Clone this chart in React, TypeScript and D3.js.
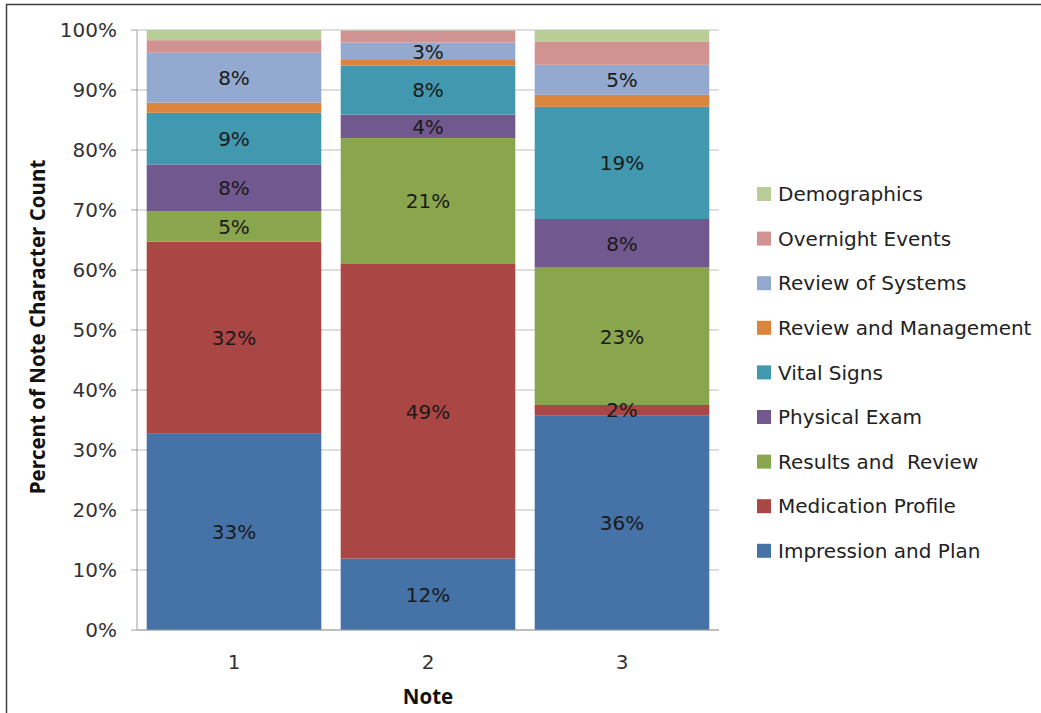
import React from "react";
import * as d3 from "d3";

const notes = ["1", "2", "3"];
const seriesNames = [
  "Impression and Plan",
  "Medication Profile",
  "Results and  Review",
  "Physical Exam",
  "Vital Signs",
  "Review and Management",
  "Review of Systems",
  "Overnight Events",
  "Demographics",
];
const seriesColors = ["#4572A7", "#AA4643", "#89A54E", "#71588F", "#4198AF", "#DB843D", "#93A9CF", "#D19392", "#B9CD96"];
const impressionAndPlan = [32.8, 11.9, 35.8];
const medicationProfile = [31.9, 49.1, 1.7];
const resultsAndReview = [5.1, 21.0, 22.9];
const physicalExam = [7.8, 3.9, 8.1];
const vitalSigns = [8.6, 8.2, 18.7];
const reviewAndManagement = [1.7, 0.9, 2.0];
const reviewOfSystems = [8.3, 2.9, 5.0];
const overnightEvents = [2.1, 2.0, 3.9];
const demographics = [1.7, 0.1, 1.9];
const labeledSeries = [true, true, true, true, true, false, true, false, false];
const yTicks = [0, 10, 20, 30, 40, 50, 60, 70, 80, 90, 100];

const seriesValues = [
  impressionAndPlan,
  medicationProfile,
  resultsAndReview,
  physicalExam,
  vitalSigns,
  reviewAndManagement,
  reviewOfSystems,
  overnightEvents,
  demographics,
];

const FONT = "'Open Sans', 'Noto Sans', sans-serif";
const WIDE = "'DejaVu Sans', sans-serif";

export default function App() {
  const W = 1041;
  const H = 713;
  const left = 137;
  const right = 719;
  const top = 30;
  const bottom = 630;

  const x = d3.scaleBand<string>().domain(notes).range([left, right]).paddingInner(0.1).paddingOuter(0.05);
  const y = d3.scaleLinear().domain([0, 100]).range([bottom, top]);

  const rows = notes.map((n, i) => {
    const r: any = { note: n };
    seriesNames.forEach((s, j) => (r[s] = seriesValues[j][i]));
    return r;
  });
  const stack = d3.stack<any>().keys(seriesNames)(rows);

  const legendY0 = 194;
  const legendStep = 44.6;
  const fs = 20;

  return (
    <svg width={W} height={H} style={{ display: "block", position: "absolute", left: 0, top: 0 }} fontFamily={WIDE}>
      <rect x={0} y={0} width={W} height={H} fill="#fff" />
      <rect x={6.5} y={4.5} width={W + 10} height={H + 10} fill="none" stroke="#404040" strokeWidth={1.5} />
      {yTicks.map((t) => (
        <line key={"g" + t} x1={left} x2={right} y1={y(t)} y2={y(t)} stroke="#BEBEBE" strokeWidth={1} />
      ))}
      {yTicks.map((t) => (
        <line key={"tk" + t} x1={left - 6} x2={left} y1={y(t)} y2={y(t)} stroke="#A0A0A0" strokeWidth={1} />
      ))}
      {stack.map((layer, j) =>
        layer.map((d, i) => (
          <rect
            key={j + "-" + i}
            x={x(notes[i])}
            width={x.bandwidth()}
            y={y(d[1])}
            height={Math.max(0, y(d[0]) - y(d[1]))}
            fill={seriesColors[j]}
          />
        ))
      )}
      <line x1={left} x2={left} y1={top} y2={bottom} stroke="#A0A0A0" strokeWidth={1} />
      <line x1={left} x2={right} y1={bottom} y2={bottom} stroke="#A0A0A0" strokeWidth={1} />
      {stack.map((layer, j) =>
        labeledSeries[j]
          ? layer.map((d, i) => (
              <text
                key={"l" + j + "-" + i}
                x={(x(notes[i]) as number) + x.bandwidth() / 2}
                y={(y(d[0]) + y(d[1])) / 2}
                dy="0.36em"
                textAnchor="middle"
                fontSize={fs}
                fill="#1a1a1a"
              >
                {Math.round(seriesValues[j][i]) + "%"}
              </text>
            ))
          : null
      )}
      {yTicks.map((t) => (
        <text key={"yl" + t} x={117} y={y(t)} dy="0.36em" textAnchor="end" fontSize={fs} fill="#333">
          {t + "%"}
        </text>
      ))}
      {notes.map((n) => (
        <text key={"xl" + n} x={(x(n) as number) + x.bandwidth() / 2} y={662} dy="0.36em" textAnchor="middle" fontSize={fs} fill="#333">
          {n}
        </text>
      ))}
      <text x={(left + right) / 2} y={697} dy="0.35em" textAnchor="middle" fontSize={20.5} fontWeight="bold" fill="#111" fontFamily={FONT}>
        Note
      </text>
      <text
        transform={`translate(38, ${(top + bottom) / 2 - 3}) rotate(-90)`}
        dy="0.35em"
        textAnchor="middle"
        fontSize={20.5}
        fontWeight="bold"
        fill="#111"
        fontFamily={FONT}
      >
        Percent of Note Character Count
      </text>
      {seriesNames
        .map((s, j) => ({ s, j }))
        .reverse()
        .map(({ s, j }, k) => (
          <g key={"lg" + j} transform={`translate(757, ${legendY0 + k * legendStep})`}>
            <rect x={0} y={-7} width={14} height={14} fill={seriesColors[j]} />
            <text x={21} y={0} dy="0.36em" fontSize={fs} fill="#222" style={{ whiteSpace: "pre" }}>
              {s}
            </text>
          </g>
        ))}
    </svg>
  );
}
